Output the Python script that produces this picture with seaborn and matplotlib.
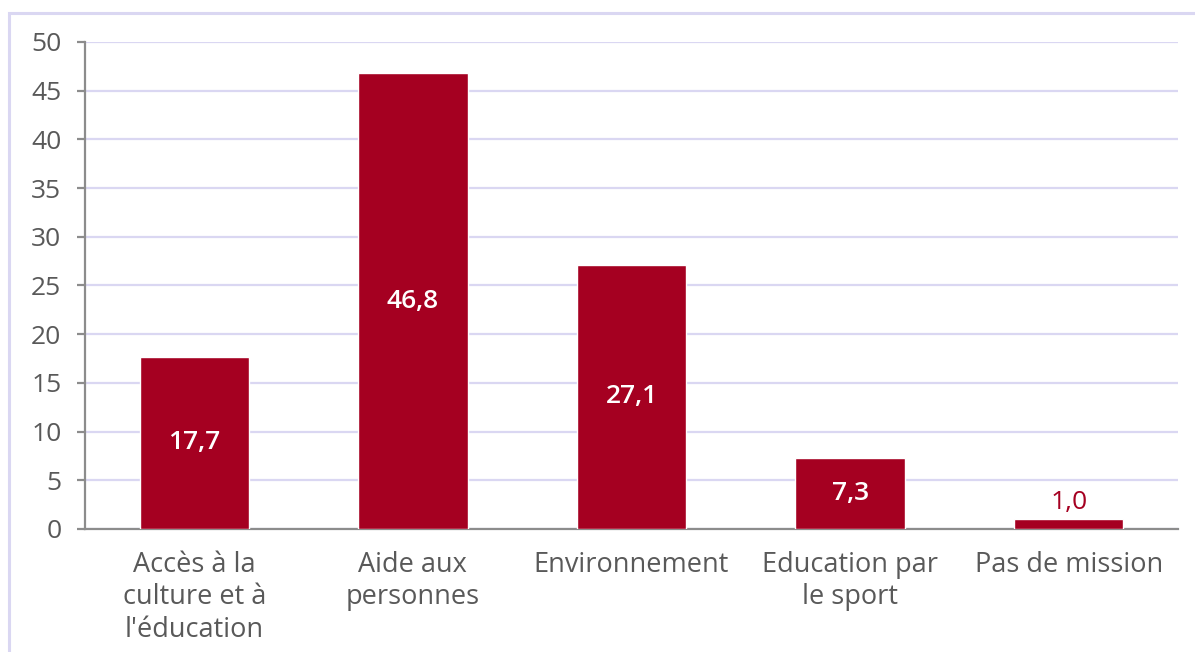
import pandas as pd
import matplotlib.pyplot as plt
import seaborn as sns
from matplotlib.patches import Rectangle

# Data
categories = ["Accès à la\nculture et à\nl'éducation", "Aide aux\npersonnes", "Environnement",
              "Education par\nle sport", "Pas de mission"]
values = [17.7, 46.8, 27.1, 7.3, 1.0]
y_ticks = [0, 5, 10, 15, 20, 25, 30, 35, 40, 45, 50]

df = pd.DataFrame({"categorie": categories, "valeur": values})

bar_color = "#A50021"
grid_color = "#DAD7F2"
text_grey = "#595959"

sns.set_style("white")
plt.rcParams["font.family"] = ["Open Sans", "DejaVu Sans"]

fig = plt.figure(figsize=(11.95, 6.52), dpi=100)
ax = fig.add_axes([0.0711, 0.1887, 0.9147, 0.7469])

sns.barplot(data=df, x="categorie", y="valeur", color=bar_color, width=0.5,
            saturation=1, ax=ax, zorder=3)

ax.set_ylim(0, 50)
ax.set_xlim(-0.5, 4.5)
ax.set_yticks(y_ticks)
ax.set_xlabel("")
ax.set_ylabel("")
ax.yaxis.grid(True, color=grid_color, linewidth=1.6, zorder=0)
ax.set_axisbelow(True)

for side in ["top", "right"]:
    ax.spines[side].set_visible(False)
for side in ["left", "bottom"]:
    ax.spines[side].set_color("#8c8c8c")
    ax.spines[side].set_linewidth(1.6)

ax.tick_params(axis="y", length=6, width=1.6, color="#8c8c8c", labelsize=19,
               labelcolor=text_grey, pad=11, left=True)
ax.tick_params(axis="x", length=0, labelsize=19.5, labelcolor=text_grey, pad=16)
for lbl in ax.get_xticklabels():
    lbl.set_linespacing(1.2)

# Value labels
bars = ax.containers[0]
for rect, v in zip(bars, values):
    txt = f"{v:.1f}".replace(".", ",")
    x = rect.get_x() + rect.get_width() / 2
    if v > 5:
        ax.text(x, v / 2, txt, ha="center", va="center", color="white",
                fontsize=19, fontweight="semibold", zorder=4)
    else:
        ax.annotate(txt, (x, v), xytext=(0, 3), textcoords="offset points",
                    ha="center", va="bottom", color=bar_color, fontsize=19, zorder=4)

# Light frame around the chart
fig.patches.append(Rectangle((9 / 1195, -0.1), 1.2, 1 - 13 / 652 + 0.1,
                             transform=fig.transFigure, fill=False,
                             edgecolor=grid_color, linewidth=2.2))

fig.savefig("out.png", dpi=100)
